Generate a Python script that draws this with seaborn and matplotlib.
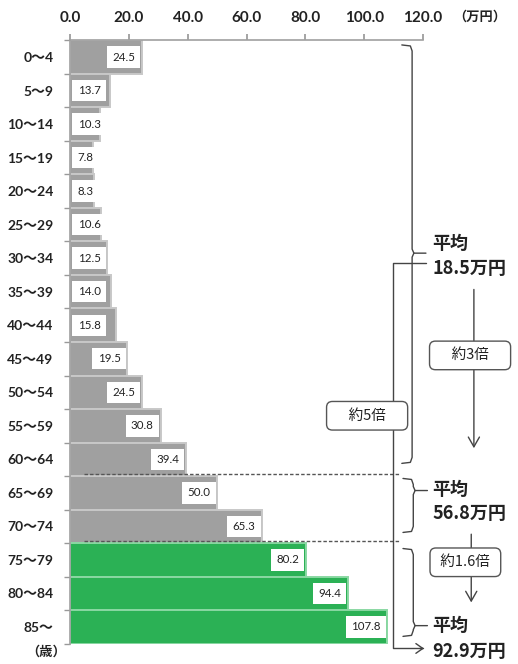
import matplotlib
matplotlib.use("Agg")
import matplotlib.pyplot as plt
import seaborn as sns
import pandas as pd
from matplotlib.patches import FancyArrowPatch

sns.set_theme(style="white")
plt.rcParams["font.family"] = ["Noto Sans CJK JP", "DejaVu Sans"]

# Per-capita annual medical cost by age group (unit: 10,000 yen)
ages = ["0～4", "5～9", "10～14", "15～19", "20～24", "25～29", "30～34", "35～39",
        "40～44", "45～49", "50～54", "55～59", "60～64", "65～69", "70～74",
        "75～79", "80～84", "85～"]
costs = [24.5, 13.7, 10.3, 7.8, 8.3, 10.6, 12.5, 14.0, 15.8, 19.5, 24.5,
         30.8, 39.4, 50.0, 65.3, 80.2, 94.4, 107.8]
groups = ["under75"] * 15 + ["75plus"] * 3
xticks = [0, 20, 40, 60, 80, 100, 120]

group_colors = {"under75": "#a0a0a0", "75plus": "#2bb155"}
edge_colors = {"under75": "#c8c8c8", "75plus": "#8ad8a3"}

df = pd.DataFrame({"age": ages, "cost": costs, "group": groups})

fig = plt.figure(figsize=(5.18, 6.64), dpi=100)
ax = fig.add_axes([70 / 518, 1 - 643.75 / 664, 353 / 518, 603.5 / 664])

sns.barplot(data=df, x="cost", y="age", hue="group", palette=group_colors,
            dodge=False, width=1.0, legend=False, ax=ax, saturation=1)

for patch, g in zip(ax.patches, groups):
    patch.set_edgecolor(edge_colors[g])
    patch.set_linewidth(1.4)

num_font = ["Lato", "DejaVu Sans"]
lab_font = ["Lato", "Noto Sans CJK JP"]

# Value labels in white boxes near the bar ends
for i, v in enumerate(costs):
    if v < 16:
        x, ha = 2.6, "left"
    else:
        x, ha = v - 2.3, "right"
    ax.text(x, i, f"{v:.1f}", ha=ha, va="center", fontsize=8.3,
            color="#222222", family=num_font,
            bbox=dict(boxstyle="square,pad=0.45", fc="white", ec="none"))

ax.set_xlim(0, 120)
ax.set_ylim(17.5, -0.5)
ax.xaxis.tick_top()
ax.set_xticks(xticks)
ax.set_xticklabels([f"{t:.1f}" for t in xticks], fontsize=11, fontweight="bold",
                   color="#222222", family=num_font)
ax.tick_params(axis="x", length=4, color="#999999", pad=7, direction="out", top=True)
ax.set_yticks(range(len(ages)))
ax.set_yticklabels(ages, fontsize=10, fontweight="bold", color="#222222", family=lab_font)
ax.tick_params(axis="y", length=0, pad=12)
ax.set_yticks([i + 0.5 for i in range(-1, len(ages))], minor=True)
ax.tick_params(axis="y", which="minor", length=4, color="#999999", left=True)
ax.set_xlabel("")
ax.set_ylabel("")
for side in ["right", "bottom"]:
    ax.spines[side].set_visible(False)
for side in ["top", "left"]:
    ax.spines[side].set_color("#a0a0a0")
    ax.spines[side].set_linewidth(1.2)

fig.text(480 / 518, 1 - 17 / 664, "（万円）", ha="center", va="center",
         fontsize=9.5, fontweight="bold", color="#222222")
fig.text(46 / 518, 1 - 652 / 664, "（歳）", ha="center", va="center",
         fontsize=9.5, fontweight="bold", color="#222222")

line_kw = dict(color="#444444", lw=1.0, clip_on=False)


def brace(x, y0, y1, ytip, xtip):
    ax.plot([x - 3.5, x - 0.6, x, x, x + 0.6, xtip], [y0, y0 + 0.03, y0 + 0.18, ytip - 0.12, ytip, ytip], **line_kw)
    ax.plot([x - 3.5, x - 0.6, x, x, x + 0.6], [y1, y1 - 0.03, y1 - 0.18, ytip + 0.12, ytip], **line_kw)


brace(116.3, -0.36, 12.12, 5.85, 121.0)
brace(116.7, 12.57, 14.18, 12.93, 121.5)
brace(116.7, 14.66, 17.28, 16.96, 121.5)

# Group boundary dotted lines
for yb in [12.45, 14.45]:
    ax.plot([4.8, 112.0], [yb, yb], color="#555555", lw=1.0, ls=(0, (2.5, 1.5)), clip_on=False)

txt_kw = dict(fontsize=13, fontweight="bold", color="#222222", ha="left", va="center",
              clip_on=False)
ax.text(123.2, 5.55, "平均", **txt_kw)
ax.text(123.2, 6.3, "18.5万円", **txt_kw)
ax.text(123.2, 12.9, "平均", **txt_kw)
ax.text(123.2, 13.62, "56.8万円", **txt_kw)
ax.text(123.2, 16.95, "平均", **txt_kw)
ax.text(123.2, 17.72, "92.9万円", **txt_kw)

# "about 5x" connector from the first average to the last
ax.plot([121.0, 109.7, 109.7, 120.0], [6.15, 6.15, 17.64, 17.64], **line_kw)
ax.add_patch(FancyArrowPatch((118, 17.64), (121.3, 17.64), arrowstyle="->,head_length=5,head_width=3.5",
                             color="#444444", lw=1.0, clip_on=False, mutation_scale=1))

# Downward arrows between averages
for x, y0, y1 in [(137.3, 6.85, 11.75), (136.4, 14.15, 16.35)]:
    ax.add_patch(FancyArrowPatch((x, y0), (x, y1), arrowstyle="->,head_length=7,head_width=4",
                                 color="#444444", lw=1.0, clip_on=False, mutation_scale=1))

box_kw = dict(fontsize=10.5, color="#222222", ha="center", va="center", clip_on=False,
              bbox=dict(boxstyle="round,pad=0.5,rounding_size=0.4", fc="white", ec="#555555", lw=1.0))
ax.text(136.0, 8.9, "　約3倍　", **box_kw)
ax.text(134.4, 15.07, " 約1.6倍 ", **box_kw)
ax.text(101.0, 10.7, "　約5倍　", **box_kw)

fig.savefig("out.png", dpi=100)
